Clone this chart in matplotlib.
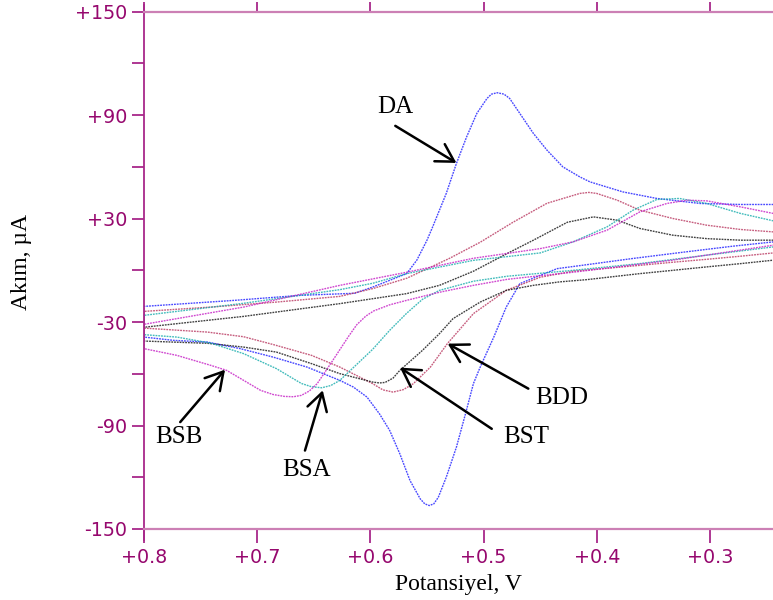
import matplotlib
matplotlib.use("Agg")
import matplotlib.pyplot as plt
from matplotlib.ticker import FixedLocator, FuncFormatter
from matplotlib.lines import Line2D

# Cyclic voltammograms. Potentials in V, currents in µA.
# Each curve has an upper and a lower branch, both listed from +0.8 V downwards.

da_upper_E = [0.800, 0.720, 0.662, 0.614, 0.598, 0.568, 0.559, 0.550, 0.545, 0.533,
              0.524, 0.515, 0.506, 0.497, 0.493, 0.488, 0.482, 0.477, 0.468, 0.456,
              0.444, 0.430, 0.415, 0.406, 0.377, 0.347, 0.309, 0.273, 0.244]
da_upper_I = [-20.9, -17.4, -14.5, -13.3, -9.7, -1.9, 5.9, 17.5, 25.2, 44.6,
              62.0, 77.4, 91.0, 99.7, 102.2, 103.0, 102.2, 99.7, 91.0, 79.4,
              69.7, 60.0, 54.2, 51.3, 45.5, 41.7, 38.8, 38.2, 38.2]
da_lower_E = [0.800, 0.774, 0.744, 0.715, 0.686, 0.656, 0.627, 0.615, 0.603, 0.592,
              0.583, 0.574, 0.565, 0.556, 0.552, 0.548, 0.544, 0.540, 0.533, 0.524,
              0.516, 0.509, 0.503, 0.491, 0.480, 0.468, 0.450, 0.435, 0.412, 0.368,
              0.324, 0.280, 0.244]
da_lower_I = [-38.7, -40.6, -41.6, -45.4, -50.3, -56.1, -63.8, -67.7, -73.5, -83.2,
              -92.8, -106.4, -121.9, -132.5, -135.4, -136.4, -135.4, -131.6, -120.0, -102.5,
              -83.2, -65.7, -56.1, -38.7, -21.3, -7.7, -2.9, 1.0, 3.0, 6.9,
              10.5, 14.0, 16.5]

bdd_upper_E = [0.800, 0.741, 0.683, 0.627, 0.598, 0.568, 0.545, 0.530, 0.503, 0.474,
               0.444, 0.415, 0.407, 0.400, 0.382, 0.362, 0.333, 0.303, 0.273, 0.244]
bdd_upper_I = [-23.8, -21.3, -18.4, -15.1, -10.6, -4.6, 2.4, 7.0, 16.3, 27.9,
               38.9, 44.6, 45.2, 44.6, 40.7, 34.9, 30.1, 26.2, 23.7, 22.3]
bdd_lower_E = [0.800, 0.744, 0.712, 0.686, 0.652, 0.627, 0.598, 0.589, 0.580, 0.571,
               0.562, 0.547, 0.532, 0.509, 0.480, 0.450, 0.421, 0.391, 0.362, 0.333,
               0.303, 0.273, 0.244]
bdd_lower_I = [-33.5, -35.8, -38.5, -43.0, -49.3, -56.1, -65.7, -69.3, -70.6, -69.2,
               -65.7, -56.1, -42.5, -25.1, -11.6, -4.0, -0.5, 1.2, 2.9, 4.7,
               6.4, 8.2, 10.1]

bst_upper_E = [0.800, 0.712, 0.627, 0.568, 0.539, 0.509, 0.477, 0.456, 0.426, 0.403,
               0.382, 0.362, 0.333, 0.303, 0.273, 0.244]
bst_upper_I = [-33.0, -26.7, -19.3, -13.5, -8.7, -0.5, 10.5, 17.5, 27.9, 31.0,
               29.1, 24.3, 20.4, 18.4, 17.5, 17.5]
bst_lower_E = [0.800, 0.744, 0.712, 0.683, 0.652, 0.627, 0.598, 0.592, 0.587, 0.580,
               0.574, 0.554, 0.539, 0.527, 0.503, 0.480, 0.456, 0.433, 0.409, 0.362,
               0.333, 0.303, 0.273, 0.244]
bst_lower_I = [-41.0, -42.3, -44.5, -47.4, -54.1, -59.9, -64.8, -65.3, -65.0, -62.5,
               -58.0, -46.4, -36.7, -28.0, -18.4, -11.6, -8.7, -6.7, -5.4, -1.9,
               0.0, 2.0, 3.9, 5.9]

bsa_upper_E = [0.800, 0.712, 0.627, 0.598, 0.568, 0.509, 0.450, 0.421, 0.391, 0.368,
               0.347, 0.327, 0.303, 0.273, 0.244]
bsa_upper_I = [-26.1, -19.1, -11.2, -7.5, -1.9, 5.8, 10.1, 16.5, 25.2, 34.9,
               41.1, 41.7, 38.8, 33.0, 28.7]
bsa_lower_E = [0.800, 0.771, 0.741, 0.712, 0.683, 0.661, 0.652, 0.643, 0.635, 0.627,
               0.612, 0.598, 0.583, 0.568, 0.554, 0.539, 0.509, 0.479, 0.450, 0.421,
               0.362, 0.303, 0.244]
bsa_lower_I = [-37.3, -38.7, -42.2, -48.3, -57.0, -65.6, -67.5, -68.1, -66.8, -63.8,
               -54.5, -45.8, -34.8, -24.9, -16.8, -11.6, -6.3, -3.4, -1.7, 0.0,
               3.9, 8.8, 13.6]

bsb_upper_E = [0.800, 0.712, 0.627, 0.568, 0.509, 0.450, 0.421, 0.391, 0.362, 0.338,
               0.320, 0.303, 0.273, 0.244]
bsb_upper_I = [-31.3, -21.3, -8.7, -1.1, 7.0, 12.6, 16.5, 23.3, 33.9, 38.8,
               40.7, 40.3, 36.8, 33.0]
bsb_lower_E = [0.800, 0.771, 0.741, 0.727, 0.712, 0.697, 0.686, 0.676, 0.668, 0.661,
               0.654, 0.647, 0.635, 0.627, 0.619, 0.612, 0.604, 0.597, 0.583, 0.568,
               0.539, 0.509, 0.479, 0.450, 0.421, 0.333, 0.244]
bsb_lower_I = [-45.4, -49.3, -55.1, -58.0, -63.8, -69.6, -72.0, -73.1, -73.3, -72.5,
               -70.0, -65.7, -54.0, -46.0, -38.0, -31.5, -26.5, -23.5, -20.0, -17.4,
               -12.7, -8.7, -5.2, -3.1, -1.1, 5.9, 14.6]

curve_names = ["DA", "BDD", "BST", "BSA", "BSB"]

# label text position, arrow tail, arrow tip (V, µA)
label_text_pos = {"DA": (0.578, 94.7), "BDD": (0.431, -74.3), "BST": (0.462, -96.9),
                  "BSA": (0.656, -115.5), "BSB": (0.769, -96.9)}
arrow_tail = {"DA": (0.578, 83.8), "BDD": (0.4605, -68.6), "BST": (0.4928, -91.9),
              "BSA": (0.6578, -104.5), "BSB": (0.768, -88.0)}
arrow_tip = {"DA": (0.524, 62.3), "BDD": (0.5317, -42.5), "BST": (0.5739, -56.4),
             "BSA": (0.6421, -69.6), "BSB": (0.7284, -57.6)}

x_ticks = [0.8, 0.7, 0.6, 0.5, 0.4, 0.3]
y_ticks = [-150, -120, -90, -60, -30, 0, 30, 60, 90, 120, 150]

curves = {
    "DA": (da_upper_E, da_upper_I, da_lower_E, da_lower_I, "#1a1aff"),
    "BDD": (bdd_upper_E, bdd_upper_I, bdd_lower_E, bdd_lower_I, "#b8355e"),
    "BST": (bst_upper_E, bst_upper_I, bst_lower_E, bst_lower_I, "#111111"),
    "BSA": (bsa_upper_E, bsa_upper_I, bsa_lower_E, bsa_lower_I, "#14abab"),
    "BSB": (bsb_upper_E, bsb_upper_I, bsb_lower_E, bsb_lower_I, "#c41ac4"),
}

PURPLE = "#96086e"
AXIS_DARK = "#a8288a"
AXIS_LIGHT = "#cc80b5"
SERIF = ["Liberation Serif", "DejaVu Serif"]

W, H = 773, 600
fig = plt.figure(figsize=(W / 100, H / 100), dpi=100)
ax = fig.add_axes([144 / W, 71 / H, 629 / W, 517.3 / H])

for name in curve_names:
    ue, ui, le, li, col = curves[name]
    xs = list(reversed(ue)) + list(le)
    ys = list(reversed(ui)) + list(li)
    ax.plot(xs, ys, color=col, lw=1.0, alpha=0.8, linestyle=(0, (1.3, 0.7)),
            solid_capstyle="butt")

ax.set_xlim(0.8, 0.8 - 629 / 1132)
ax.set_ylim(-150, 150)

# axis frame
for side in ("right", "left"):
    ax.spines[side].set_visible(False)
for side in ("top", "bottom"):
    ax.spines[side].set_color(AXIS_LIGHT)
    ax.spines[side].set_linewidth(1.6)
ax.add_line(Line2D([0, 0], [-0.021, 1.013], transform=ax.transAxes, color=AXIS_DARK,
                   lw=1.3, clip_on=False))

ax.xaxis.set_major_locator(FixedLocator(x_ticks))
ax.xaxis.set_major_formatter(FuncFormatter(lambda v, p: f"+{v:.1f}"))
ax.yaxis.set_major_locator(FixedLocator(y_ticks))
ax.yaxis.set_major_formatter(
    FuncFormatter(lambda v, p: f"{int(round(v)):+d}" if int(round(v)) % 60 == 30 else ""))

ax.tick_params(axis="x", which="major", direction="out", top=True, bottom=True,
               length=10, width=1.3, color=AXIS_DARK, labelcolor=PURPLE,
               labelsize=13.8, pad=4)
ax.tick_params(axis="y", which="major", direction="out", left=True, right=False,
               length=9, width=1.3, color=AXIS_DARK, labelcolor=PURPLE,
               labelsize=13.8, pad=3)
for t in ax.xaxis.get_major_ticks():
    t.tick2line.set_markersize(7)
for lab in ax.get_xticklabels() + ax.get_yticklabels():
    lab.set_family("DejaVu Sans")

# arrows with labels
for name in curve_names:
    ax.annotate("", xy=arrow_tip[name], xytext=arrow_tail[name],
                arrowprops=dict(arrowstyle="->,head_length=0.62,head_width=0.36",
                                lw=1.8, color="black", mutation_scale=20,
                                shrinkA=0, shrinkB=0))
    ax.text(*label_text_pos[name], name, fontsize=18, family=SERIF,
            ha="center", va="center")

fig.text(458 / W, 1 - 590 / H, "Potansiyel, V", fontsize=17, family=SERIF,
         ha="center", va="baseline")
fig.text(22 / W, 1 - 261.5 / H, "Akım, µA", fontsize=17, family=SERIF,
         rotation=90, ha="center", va="center")

fig.savefig("out.png", dpi=100)
